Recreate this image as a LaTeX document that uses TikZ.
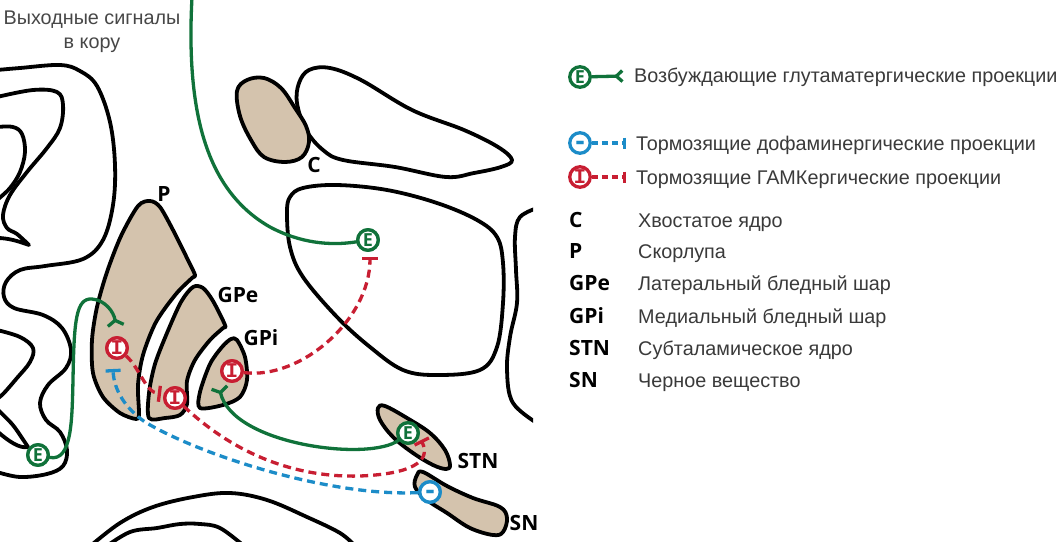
\documentclass[tikz,border=0pt]{standalone}
\usepackage{fontspec}
\setmainfont{Liberation Sans}
\newfontfamily\labfont{Open Sans}
\newfontfamily\ibeamfont{Liberation Mono}
\usetikzlibrary{arrows.meta}
\definecolor{cgreen}{RGB}{16,114,58}
\definecolor{cred}{RGB}{200,30,50}
\definecolor{cblue}{RGB}{28,140,200}
\definecolor{cbeige}{RGB}{212,195,173}
\definecolor{ctext}{RGB}{58,58,58}
\newcommand{\minusmark}{\raisebox{-0.27em}[0pt][0pt]{-}}
\begin{document}
\begin{tikzpicture}[x=1pt,y=-1pt,
  outline/.style={line width=3.8pt, black, line join=round, line cap=round},
  nucleus/.style={outline, fill=cbeige},
  badge/.style={circle, draw, fill=white, line width=3.3pt, minimum size=20.5pt, inner sep=0pt,
    font=\labfont\bfseries\fontsize{18}{18}\selectfont},
  bE/.style={badge, draw=cgreen, text=cgreen},
  bI/.style={badge, draw=cred, text=cred, font=\ibeamfont\bfseries\fontsize{21}{21}\selectfont},
  bD/.style={badge, draw=cblue, text=cblue, font=\labfont\bfseries\fontsize{28}{28}\selectfont},
  excit/.style={cgreen, line width=3.3pt, line cap=round,
    -{Straight Barb[reversed,length=5pt,width=16pt,line width=3.3pt]}},
  inhibR/.style={cred, line width=3.3pt, dash pattern=on 8pt off 5pt,
    -{Bar[width=16pt,line width=3.3pt]}},
  inhibB/.style={cblue, line width=3.3pt, dash pattern=on 8pt off 5pt,
    -{Bar[width=15pt,line width=3.3pt]}},
  gtext/.style={text=ctext, font=\fontsize{19.8}{23}\selectfont, anchor=base west, inner sep=0pt},
  abbr/.style={font=\labfont\bfseries\fontsize{21}{21}\selectfont, anchor=base west, inner sep=0pt},
  lab/.style={font=\labfont\bfseries\fontsize{21}{21}\selectfont, anchor=base, inner sep=0pt}
]
\useasboundingbox (0,0) rectangle (1063,541);
\fill[white] (0,0) rectangle (1063,541);

% ---------- cortex folds (left) ----------
\draw[outline] plot[smooth,tension=0.6] coordinates {(-3,70) (20,68) (60,65) (80,71) (97,86) (110,122) (115,165) (113,205) (103,240) (83,259) (45,266) (20,270) (6,282) (4,297) (14,308) (43,315) (62,328) (71,350) (66,368) (48,385) (40,403) (46,420) (60,432) (67,450) (63,466) (47,474) (20,477) (-3,472)};
\draw[outline] plot[smooth,tension=0.6] coordinates {(-3,97) (33,90) (57,92) (63,105) (60,128) (47,148) (27,172) (10,195) (3,215) (7,228) (17,234) (29,245)} .. controls (18,241) and (8,238) .. (-3,238);
\draw[outline] plot[smooth,tension=0.6] coordinates {(-3,127) (13,127) (22,134) (25,152) (20,172) (10,188) (-3,200)};
\draw[outline] plot[smooth,tension=0.6] coordinates {(-3,330) (20,337) (33,348) (30,362) (17,378) (4,393) (-3,399)};
\draw[outline] plot[smooth,tension=0.6] coordinates {(-3,409) (12,424) (22,438) (28,447)} .. controls (20,449) and (8,441) .. (-3,431);

% ---------- upper shapes ----------
\draw[outline] plot[smooth cycle,tension=0.6] coordinates {(299,83) (309,70) (330,68) (361,80) (412,110) (464,130) (498,147) (512,160) (501,167) (474,173) (446,177) (395,167) (343,160) (323,150) (306,130) (297,103)};
\draw[nucleus] plot[smooth cycle,tension=0.6] coordinates {(247,80) (264,78) (281,88) (295,108) (306,126) (309,142) (302,157) (285,162) (264,157) (251,140) (240,116) (237,91)};

% thalamus
\draw[outline] plot[smooth cycle,tension=0.6] coordinates {(290,197) (303,188) (337,185) (387,190) (437,203) (477,220) (497,237) (503,263) (503,303) (497,347) (480,370) (437,375) (403,370) (370,347) (337,317) (303,277) (290,247) (287,213)};
% right edge curve
\begin{scope}
\clip (0,0) rectangle (533,541);
\draw[outline] plot[smooth,tension=0.6] coordinates {(540,207) (520,217) (515,237) (516,270) (517,303) (510,337) (507,370) (513,403) (540,425)};
\end{scope}

% bottom shapes
\draw[outline] plot[smooth,tension=0.6] coordinates {(88,548) (120,523) (153,507) (193,497) (230,493) (267,500) (307,517) (340,533) (355,546)};
\draw[outline] plot[smooth,tension=0.6] coordinates {(104,548) (130,532) (157,528) (180,524) (200,524) (220,528) (244,546)};

% ---------- basal ganglia nuclei ----------
\draw[nucleus] plot[smooth cycle,tension=0.5] coordinates {(195,275) (186,256) (173,230) (160,207) (150,201) (138,206) (121,236) (107,272) (97,307) (92,340) (93,373) (103,397) (120,413) (136,419) (139,414) (138,385) (143,355) (156,322) (176,294) (192,278)};
\draw[nucleus] plot[smooth cycle,tension=0.5] coordinates {(225,325) (213,301) (203,288) (193,287) (181,302) (167,333) (155,364) (149,393) (149,418) (165,418) (180,415) (187,404) (187,381) (195,360) (210,340) (223,328)};
\draw[nucleus] plot[smooth cycle,tension=0.5] coordinates {(237,340) (245,357) (247,380) (240,397) (223,405) (200,408) (200,392) (210,364) (222,347) (231,339)};
\draw[nucleus] plot[smooth cycle,tension=0.6] coordinates {(378,408) (385,406) (407,418) (430,433) (445,450) (450,465) (446,469) (433,465) (413,453) (393,437) (380,420)};
\draw[nucleus] plot[smooth cycle,tension=0.6] coordinates {(417,475) (423,472) (447,486) (473,498) (500,507) (507,518) (503,532) (493,535) (470,528) (447,513) (427,500) (415,487)};

% ---------- labels ----------
\node[lab] (labC) at (314,172) {C};
\node[lab] (labP) at (164,201) {P};
\node[lab] (labGPe) at (238,302) {GPe};
\node[lab] (labGPi) at (261,345) {GPi};
\node[lab] (labSTN) at (478,468) {STN};
\node[lab] (labSN) at (524,530) {SN};

\node[gtext, anchor=base, text=black!72] (out1) at (92,24) {Выходные сигналы};
\node[gtext, anchor=base, text=black!72] (out2) at (92,48) {в кору};

% ---------- badges ----------
\node[bE] (bThal) at (368,240) {E};
\node[bE] (bCx) at (38,455) {E};
\node[bE] (bSTN) at (408,433) {E};
\node[bI] (bP) at (117,348) {I};
\node[bI] (bGPe) at (175,398) {I};
\node[bI] (bGPi) at (232,371) {I};
\node[bD] (bSN) at (430,492) {\minusmark};

\coordinate (topOut) at (192,-3);
\coordinate (endP) at (116,327);
\coordinate (endGPi) at (219,386);
\coordinate (endThal) at (370,257);
\coordinate (endGPe) at (161,394);
\coordinate (endSTN) at (421,440);
\coordinate (endPb) at (113,369);

% ---------- connectors ----------
\draw[cgreen, line width=3.3pt, line cap=round] (bThal) .. controls (330,246) and (300,243) .. (270,227) .. controls (205,190) and (186,110) .. (topOut);
\draw[excit] (bCx) .. controls (72,462) and (72,420) .. (73,380) .. controls (74,320) and (76,298) .. (92,299) .. controls (105,300) and (114,312) .. (endP);
\draw[excit] (bSTN) .. controls (370,462) and (232,445) .. (endGPi);
\draw[inhibR] (bGPi) .. controls (300,380) and (370,320) .. (endThal);
\draw[inhibR] (bP) .. controls (140,368) and (145,392) .. (endGPe);
\draw[inhibR] (bGPe) .. controls (230,450) and (290,478) .. (360,476) .. controls (410,474) and (432,462) .. (endSTN);
\draw[inhibB] (bSN) .. controls (330,497) and (200,455) .. (145,422) .. controls (125,408) and (114,390) .. (endPb);

% redraw badges on top
\node[bE] at (bThal) {E};
\node[bE] at (bCx) {E};
\node[bE] at (bSTN) {E};
\node[bI] at (bP) {I};
\node[bI] at (bGPe) {I};
\node[bI] at (bGPi) {I};
\node[bD] at (bSN) {\minusmark};

% ---------- legend ----------
\node[bE] (lgE) at (580,77) {E};
\coordinate (lgEend) at (624,76);
\draw[cgreen, line width=3.3pt, line cap=round, -{Straight Barb[reversed,length=6pt,width=11pt,line width=3.3pt]}] (lgE) -- (lgEend);
\node[gtext] (t1) at (634,82) {Возбуждающие глутаматергические проекции};

\node[bD] (lgD) at (580,143) {\minusmark};
\coordinate (lgDend) at (626,143);
\draw[cblue, line width=3.3pt, dash pattern=on 6pt off 4pt, -{Bar[width=11pt,line width=3.3pt]}] (lgD) -- (lgDend);
\node[gtext] (t2) at (636,150) {Тормозящие дофаминергические проекции};

\node[bI] (lgI) at (580,177) {I};
\coordinate (lgIend) at (626,177);
\draw[cred, line width=3.3pt, dash pattern=on 6pt off 4pt, -{Bar[width=11pt,line width=3.3pt]}] (lgI) -- (lgIend);
\node[gtext] (t3) at (636,184) {Тормозящие ГАМКергические проекции};

\node[abbr] (aC) at (569,227) {C};
\node[abbr] (aP) at (569,258) {P};
\node[abbr] (aGPe) at (569,290) {GPe};
\node[abbr] (aGPi) at (569,323) {GPi};
\node[abbr] (aSTN) at (569,355) {STN};
\node[abbr] (aSN) at (569,387) {SN};
\node[gtext] (dC) at (638,227) {Хвостатое ядро};
\node[gtext] (dP) at (638,258) {Скорлупа};
\node[gtext] (dGPe) at (638,290) {Латеральный бледный шар};
\node[gtext] (dGPi) at (638,323) {Медиальный бледный шар};
\node[gtext] (dSTN) at (638,355) {Субталамическое ядро};
\node[gtext] (dSN) at (638,387) {Черное вещество};
\end{tikzpicture}
\end{document}
